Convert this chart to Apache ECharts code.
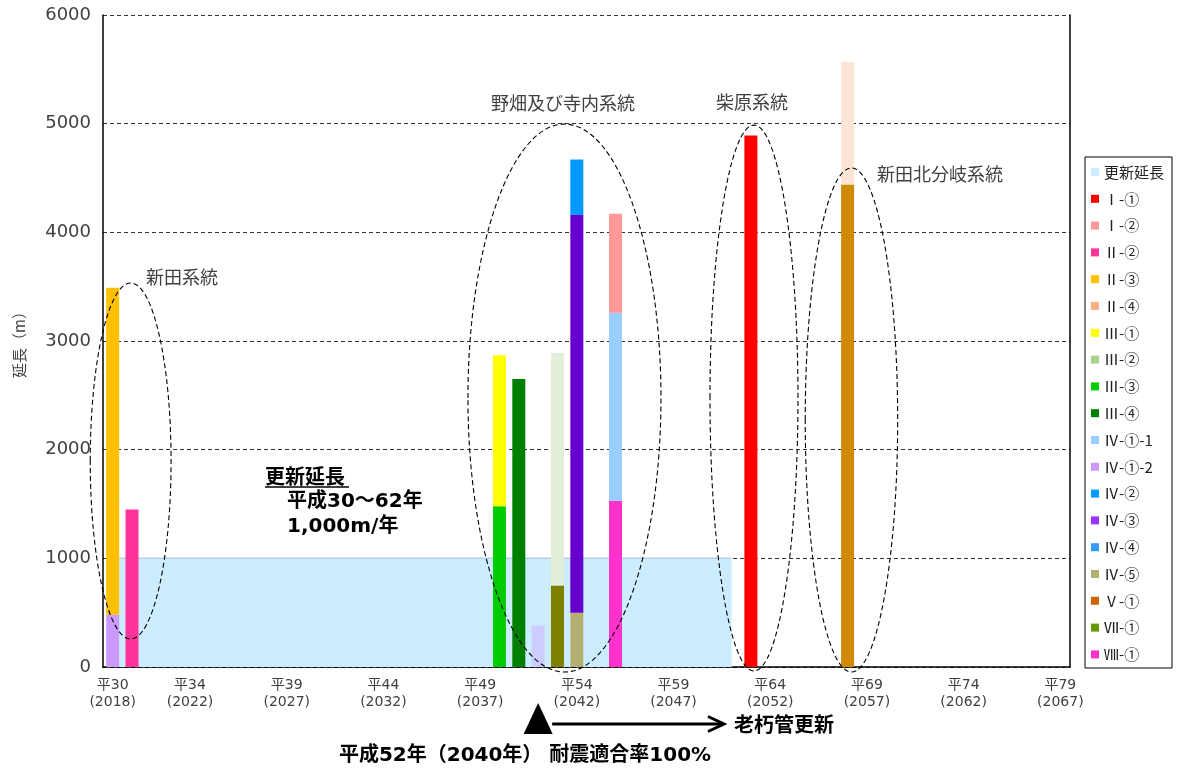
<!DOCTYPE html>
<html>
<head>
<meta charset="utf-8">
<script src="https://cdn.jsdelivr.net/npm/echarts@6/dist/echarts.min.js"></script>
<style>
html,body{margin:0;padding:0;background:#fff;}
#c{width:1177px;height:770px;}
</style>
</head>
<body>
<div id="c"></div>
<script>
// ---------------- DATA ----------------
const categories = ['平30','平31','平32','平33','平34','平35','平36','平37','平38','平39',
  '平40','平41','平42','平43','平44','平45','平46','平47','平48','平49',
  '平50','平51','平52','平53','平54','平55','平56','平57','平58','平59',
  '平60','平61','平62','平63','平64','平65','平66','平67','平68','平69',
  '平70','平71','平72','平73','平74','平75','平76','平77','平78','平79'];
const westernYears = ['2018','2019','2020','2021','2022','2023','2024','2025','2026','2027',
  '2028','2029','2030','2031','2032','2033','2034','2035','2036','2037',
  '2038','2039','2040','2041','2042','2043','2044','2045','2046','2047',
  '2048','2049','2050','2051','2052','2053','2054','2055','2056','2057',
  '2058','2059','2060','2061','2062','2063','2064','2065','2066','2067'];
const yTicks = [0, 1000, 2000, 3000, 4000, 5000, 6000];

// 更新延長 (平成30～62年 1,000m/年)
const renewalFrom = '平30';
const renewalTo = '平62';
const renewalValue = 1000;

// 系統別 延長 (m) [年度, 値]
const v_I1    = [['平63', 4890]];
const v_I2    = [['平56', 910]];
const v_II2   = [['平31', 1450]];
const v_II3   = [['平30', 3010]];
const v_II4   = [['平68', 1130]];
const v_III1  = [['平50', 1390]];
const v_III2  = [['平53', 2140]];
const v_III3  = [['平50', 1480]];
const v_III4  = [['平51', 2650]];
const v_IV1_1 = [['平56', 1730]];
const v_IV1_2 = [['平30', 480], ['平52', 380]];
const v_IV2   = [['平54', 510]];
const v_IV3   = [['平54', 3660]];
const v_IV4   = [];
const v_IV5   = [['平54', 500]];
const v_V1    = [['平68', 4440]];
const v_VII1  = [['平53', 750]];
const v_VIII1 = [['平56', 1530]];

// ---------------- STYLE / CONFIG ----------------
const FONT_CJK = "'Noto Sans CJK JP', sans-serif";
const FONT_NUM = "'DejaVu Sans', 'Noto Sans CJK JP', sans-serif";

const legendOrder = ['更新延長','Ⅰ-①','Ⅰ-②','Ⅱ-②','Ⅱ-③','Ⅱ-④','Ⅲ-①','Ⅲ-②','Ⅲ-③','Ⅲ-④',
  'Ⅳ-①-1','Ⅳ-①-2','Ⅳ-②','Ⅳ-③','Ⅳ-④','Ⅳ-⑤','Ⅴ-①','Ⅶ-①','Ⅷ-①'];

// stacking order (bottom first): name, values, legend colour
const barDefs = [
  ['Ⅳ-①-2', v_IV1_2, '#CC99FF'],
  ['Ⅳ-⑤', v_IV5, '#B4B074'],
  ['Ⅷ-①', v_VIII1, '#FF33CC'],
  ['Ⅲ-③', v_III3, '#00CC00'],
  ['Ⅶ-①', v_VII1, '#669900'],
  ['Ⅴ-①', v_V1, '#CC6600'],
  ['Ⅳ-③', v_IV3, '#9933FF'],
  ['Ⅳ-①-1', v_IV1_1, '#99CCFF'],
  ['Ⅱ-③', v_II3, '#FFC000'],
  ['Ⅲ-①', v_III1, '#FFFF00'],
  ['Ⅳ-②', v_IV2, '#0099FF'],
  ['Ⅰ-②', v_I2, '#FF9999'],
  ['Ⅲ-②', v_III2, '#A9D18E'],
  ['Ⅱ-④', v_II4, '#F4B183'],
  ['Ⅱ-②', v_II2, '#FF3399'],
  ['Ⅲ-④', v_III4, '#008000'],
  ['Ⅰ-①', v_I1, '#FF0000'],
  ['Ⅳ-④', v_IV4, '#3399FF']
];
// bar colours that differ from the legend swatch
const colorOverrides = [
  {series:'Ⅳ-①-2', cat:'平52', color:'#CCCCFF'},
  {series:'Ⅲ-②', cat:'平53', color:'#E2EFDA'},
  {series:'Ⅱ-④', cat:'平68', color:'#FBE5D6'},
  {series:'Ⅶ-①', cat:'平53', color:'#808000'},
  {series:'Ⅳ-③', cat:'平54', color:'#6600CC'},
  {series:'Ⅴ-①', cat:'平68', color:'#D08A00'}
];

function buildBarData(name, pairs) {
  const arr = categories.map(() => null);
  pairs.forEach(([c, v]) => {
    const o = colorOverrides.find(x => x.series === name && x.cat === c);
    arr[categories.indexOf(c)] = o ? {value: v, itemStyle: {color: o.color}} : v;
  });
  return arr;
}
const i0 = categories.indexOf(renewalFrom), i1 = categories.indexOf(renewalTo);
const renewalData = categories.map((c, i) => (i >= i0 && i <= i1) ? renewalValue : null);

const series = [{
  name: '更新延長', type: 'line', data: renewalData, symbol: 'none', z: 1,
  itemStyle: {color: '#CCECFF'},
  lineStyle: {width: 1.5, color: '#B3CFDF'},
  areaStyle: {color: '#CCECFF', opacity: 1},
  silent: true
}];
barDefs.forEach(([name, vals, color]) => {
  series.push({
    name, type: 'bar', stack: 'total', barWidth: 13,
    itemStyle: {color}, data: buildBarData(name, vals), z: 2
  });
});

const chart = echarts.init(document.getElementById('c'), null, {renderer: 'canvas'});
chart.setOption({
  animation: false,
  backgroundColor: '#fff',
  textStyle: {fontFamily: FONT_CJK},
  grid: {left: 103, right: 107, top: 15, bottom: 103, containLabel: false},
  legend: {
    data: legendOrder, orient: 'vertical', left: 1085, top: 157,
    padding: [7, 0, 0, 6], itemWidth: 8, itemHeight: 8, itemGap: 10.8, icon: 'rect',
    textStyle: {fontSize: 15, color: '#222', lineHeight: 16, fontFamily: FONT_CJK},
    selectedMode: false
  },
  xAxis: {
    type: 'category', data: categories, boundaryGap: true,
    axisLine: {show: true, lineStyle: {color: '#000', width: 1.5}},
    axisTick: {show: false},
    splitLine: {show: false},
    axisLabel: {
      interval: (i) => i === 0 || (i + 1) % 5 === 0,
      formatter: (v, i) => v + '\n(' + westernYears[i] + ')',
      fontSize: 14, color: '#404040', lineHeight: 17, margin: 10, fontFamily: FONT_NUM
    }
  },
  yAxis: [{
    type: 'value', min: yTicks[0], max: yTicks[yTicks.length - 1], interval: 1000,
    name: '延長（m）', nameLocation: 'middle', nameGap: 76, nameRotate: 90,
    nameTextStyle: {fontSize: 15, color: '#404040', fontFamily: FONT_CJK},
    axisLine: {show: true, lineStyle: {color: '#000', width: 1.5}},
    axisTick: {show: false},
    axisLabel: {fontSize: 18, color: '#404040', margin: 12, fontFamily: FONT_NUM,
      formatter: (v) => String(v)},
    splitLine: {show: true, lineStyle: {color: '#333', type: [4, 3], width: 1}}
  }, {
    type: 'value', position: 'right', min: yTicks[0], max: yTicks[yTicks.length - 1], interval: 1000,
    axisLine: {show: true, lineStyle: {color: '#000', width: 1.5}},
    axisTick: {show: false}, axisLabel: {show: false}, splitLine: {show: false}
  }],
  series
});

// ---------------- ANNOTATIONS ----------------
function catX(i) {
  const a = chart.convertToPixel({xAxisIndex: 0}, 0);
  const b = chart.convertToPixel({xAxisIndex: 0}, 1);
  return a + i * (b - a);
}
function catW() { return chart.convertToPixel({xAxisIndex: 0}, 1) - chart.convertToPixel({xAxisIndex: 0}, 0); }
function valY(v) { return chart.convertToPixel({yAxisIndex: 0}, v); }
function valH(v) { return valY(0) - valY(v); }

// ellipses: centre (category index, value), radii (categories, value)
const ellipseDefs = [
  {ci: 0.93, cv: 1896, rc: 2.09, rv: 1638},
  {ci: 23.36, cv: 2475, rc: 4.99, rv: 2521},
  {ci: 33.16, cv: 2475, rc: 2.275, rv: 2512},
  {ci: 38.2, cv: 2273, rc: 2.39, rv: 2319}
];
const graphics = [];
ellipseDefs.forEach(e => {
  graphics.push({
    type: 'ellipse', z: 100,
    shape: {cx: catX(e.ci), cy: valY(e.cv), rx: e.rc * catW(), ry: valH(e.rv)},
    style: {fill: 'none', stroke: '#000', lineWidth: 1.1, lineDash: [5, 3]}
  });
});
function txt(text, x, y, size, opts) {
  return {
    type: 'text', z: 100, x, y,
    style: Object.assign({text, fontSize: size, fill: '#404040', fontFamily: FONT_CJK,
      align: 'left', verticalAlign: 'middle'}, opts || {})
  };
}
graphics.push(txt('新田系統', 146, 277, 18));
graphics.push(txt('野畑及び寺内系統', 491, 103, 18));
graphics.push(txt('柴原系統', 716, 102, 18));
graphics.push(txt('新田北分岐系統', 877, 174, 18));
graphics.push(txt('更新延長', 265, 476, 20, {fill: '#000', fontWeight: 'bold'}));
graphics.push({type: 'line', z: 100, shape: {x1: 265, y1: 487, x2: 349, y2: 487}, style: {stroke: '#000', lineWidth: 1.5}});
graphics.push(txt('平成30～62年', 287, 502, 20, {fill: '#000', fontWeight: 'bold', fontFamily: FONT_NUM}));
graphics.push(txt('1,000m/年', 287, 527, 20, {fill: '#000', fontWeight: 'bold', fontFamily: FONT_NUM}));

// legend frame
graphics.push({type: 'rect', z: 100, shape: {x: 1085, y: 157, width: 87, height: 511},
  style: {fill: 'none', stroke: '#000', lineWidth: 1}});

// 2040 marker and arrow
const tx = catX(categories.indexOf('平52'));
graphics.push({type: 'polygon', z: 100, shape: {points: [[tx, 703], [tx - 14.5, 734], [tx + 14.5, 734]]}, style: {fill: '#000'}});
graphics.push({type: 'line', z: 100, shape: {x1: tx + 14, y1: 724, x2: 723, y2: 724}, style: {stroke: '#000', lineWidth: 3}});
graphics.push({type: 'polyline', z: 100, shape: {points: [[708, 716.5], [724, 724], [708, 731.5]]}, style: {stroke: '#000', lineWidth: 3, fill: 'none'}});
graphics.push(txt('老朽管更新', 734, 724, 20, {fill: '#000', fontWeight: 'bold'}));
graphics.push(txt('平成52年（2040年） 耐震適合率100%', 525, 756, 20, {fill: '#000', fontWeight: 'bold', fontFamily: FONT_NUM, align: 'center'}));

chart.setOption({graphic: graphics});
</script>
</body>
</html>
